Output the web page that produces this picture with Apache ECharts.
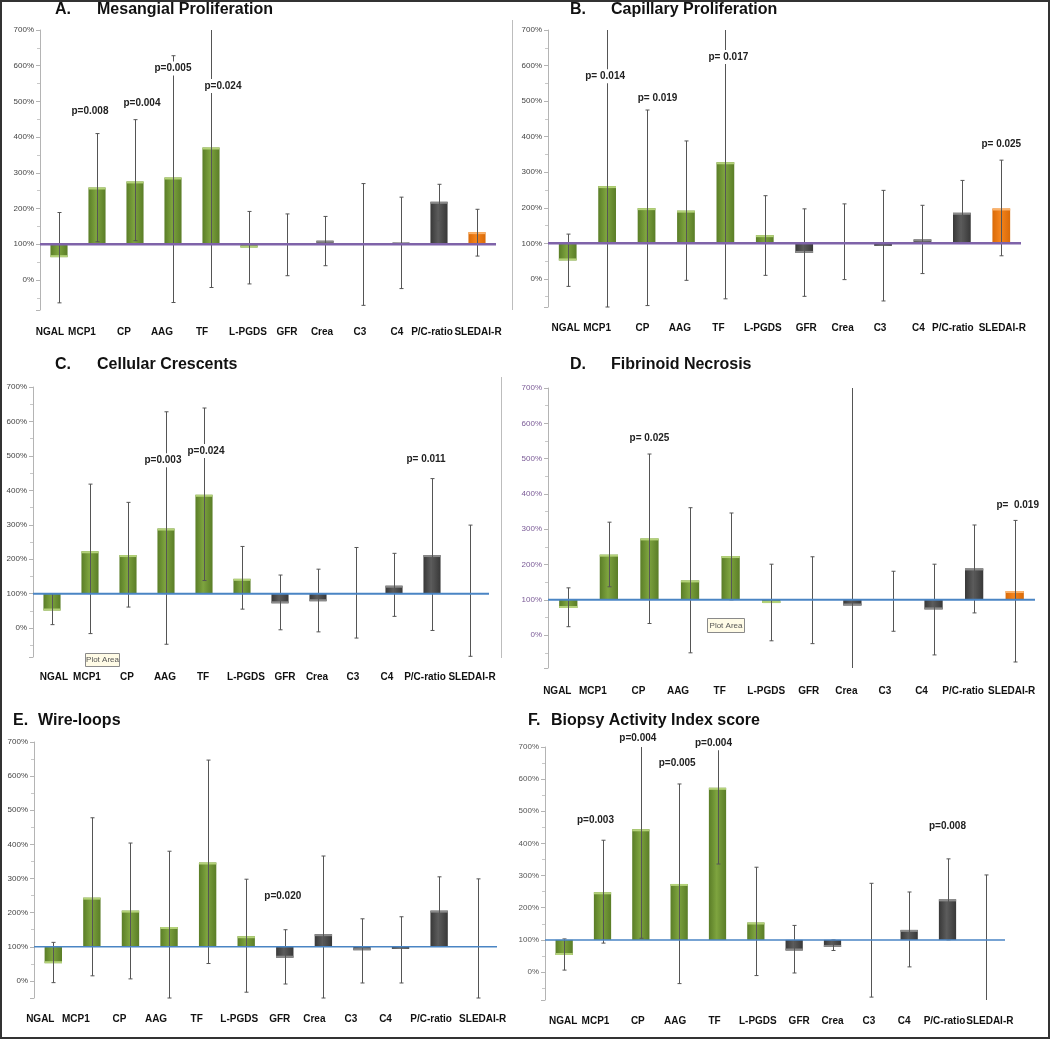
<!DOCTYPE html>
<html>
<head>
<meta charset="utf-8">
<script src="https://cdn.jsdelivr.net/npm/echarts@6/dist/echarts.min.js"></script>
<style>
html,body{margin:0;padding:0;background:#fff;}
#chart{width:1050px;height:1039px;}
</style>
</head>
<body>
<div id="chart"></div>
<script>
// ---------------- DATA ----------------
const CATS = ['NGAL','MCP1','CP','AAG','TF','L-PGDS','GFR','Crea','C3','C4','P/C-ratio','SLEDAI-R'];
const BASELINE = 100;

// A. Mesangial Proliferation
const valA = [64,259,276,287,371,91,98,110,100,105,219,134];
const loA  = [-64,107,110,-63,-21,-11,12,40,-71,-24,166,67];
const hiA  = [189,410,449,628,760,192,185,178,270,232,268,198];
const pA   = [['MCP1',472,'p=0.008'],['CP',495,'p=0.004'],['AAG',592,'p=0.005'],['TF',543,'p=0.024']];

// B. Capillary Proliferation
const valB = [52,261,199,192,328,123,73,100,93,111,186,198];
const loB  = [-21,-79,-75,-4,-56,10,-49,-2,-62,15,100,65];
const hiB  = [126,760,475,388,760,234,197,211,249,207,277,334];
const pB   = [['MCP1',570,'p= 0.014'],['CP',508,'p= 0.019'],['TF',624,'p= 0.017'],['SLEDAI-R',379,'p= 0.025']];

// C. Cellular Crescents
const valC = [51,223,212,289,387,143,72,78,100,123,212,100];
const loC  = [10,-16,61,-47,138,55,-5,-11,-29,34,-7,-82];
const hiC  = [100,418,365,628,639,237,154,171,234,217,434,299];
const pC   = [['AAG',487,'p=0.003'],['TF',514,'p=0.024'],['P/C-ratio',490,'p= 0.011']];

// D. Fibrinoid Necrosis
const valD = [77,228,274,155,224,91,100,84,100,73,189,125];
const loD  = [24,137,33,-50,100,-16,-24,-94,11,-56,63,-76];
const hiD  = [134,320,513,361,346,201,222,760,181,201,312,325];
const pD   = [['CP',558,'p= 0.025'],['SLEDAI-R',368,'p=  0.019']];

// E. Wire-loops
const valE = [52,244,206,158,347,131,68,137,90,94,206,100];
const loE  = [-5,15,6,-50,51,-33,-9,-50,-6,-6,103,-50];
const hiE  = [113,478,404,380,647,298,150,366,182,188,305,299];
const pE   = [['GFR',247,'p=0.020']];

// F. Biopsy Activity Index score
const valF = [53,248,444,274,573,154,67,78,100,131,226,100];
const loF  = [6,90,105,-36,336,-11,-3,67,-78,16,100,-88];
const hiF  = [103,410,760,585,760,326,145,100,276,249,352,302];
const pF   = [['MCP1',473,'p=0.003'],['CP',726,'p=0.004'],['AAG',648,'p=0.005'],['TF',712,'p=0.004'],['P/C-ratio',452,'p=0.008']];

// ---------------- LAYOUT / STYLE ----------------
const FONT = '"Liberation Sans", Arial, Helvetica, sans-serif';
const PURPLE = '#7f63a9', BLUE = '#4a85c4';
const panels = [
  {letter:'A.', title:'Mesangial Proliferation', lx:55, tx:97, ty:11,
   grid:{left:40, top:30, width:456, height:280}, min:-84, margin:17,
   val:valA, lo:loA, hi:hiA, p:pA, line:PURPLE, lw:2.5, ylab:'#444',
   labShift:[-9,-15,-11,-11,-9,-1,0,-3,-3,-4,-7,1], pShift:[-7,7,0,12]},
  {letter:'B.', title:'Capillary Proliferation', lx:570, tx:611, ty:11,
   grid:{left:548, top:30, width:473, height:277}, min:-79, margin:16,
   val:valB, lo:loB, hi:hiB, p:pB, line:PURPLE, lw:2.5, ylab:'#444',
   labShift:[-2,-10,-4,-6,-7,-2,2,-1,-3,-4,-9,1], pShift:[-2,11,3,0]},
  {letter:'C.', title:'Cellular Crescents', lx:55, tx:97, ty:366,
   grid:{left:33, top:387, width:456, height:270}, min:-84, margin:15,
   val:valC, lo:loC, hi:hiC, p:pC, line:BLUE, lw:2, ylab:'#444',
   labShift:[2,-3,-1,-1,-1,4,5,-1,-3,-7,-7,2], pShift:[-3,2,-6]},
  {letter:'D.', title:'Fibrinoid Necrosis', lx:570, tx:611, ty:366,
   grid:{left:548, top:388, width:487, height:280}, min:-93, margin:18,
   val:valD, lo:loD, hi:hiD, p:pD, line:BLUE, lw:2, ylab:'#7a5a96',
   labShift:[-11,-16,-11,-12,-11,-5,-3,-6,-8,-12,-11,-3], pShift:[0,3]},
  {letter:'E.', title:'Wire-loops', lx:13, tx:38, ty:722,
   grid:{left:34, top:742, width:463, height:256}, min:-50, margin:16,
   val:valE, lo:loE, hi:hiE, p:pE, line:BLUE, lw:1.5, ylab:'#444',
   labShift:[-13,-16,-11,-13,-11,-7,-5,-9,-11,-15,-8,5], pShift:[-2]},
  {letter:'F.', title:'Biopsy Activity Index score', lx:528, tx:551, ty:722,
   grid:{left:545, top:747, width:460, height:253}, min:-87, margin:16,
   val:valF, lo:loF, hi:hiF, p:pF, line:BLUE, lw:1.5, ylab:'#555',
   labShift:[-1,-7,-3,-4,-3,2,5,0,-2,-5,-3,4], pShift:[-7,-3,-2,-4,0]}
];
const YMAX = 700;

function barColors(i){
  if (i <= 5) return {edge:'#5a7d27', mid:'#7ea43f', top:'#b4d279'};
  if (i <= 10) return {edge:'#383838', mid:'#5c5c5c', top:'#8a8a8a'};
  return {edge:'#d96a08', mid:'#f5841c', top:'#fbb26a'};
}

function makeBarRender(){
  return function(params, api){
    const i = api.value(0), v = api.value(1);
    const p0 = api.coord([i, BASELINE]);
    const p1 = api.coord([i, v]);
    const w = api.size([1,0])[0]*0.45;
    const x = p0[0]-w/2;
    const y = Math.min(p0[1], p1[1]);
    const h = Math.abs(p0[1]-p1[1]);
    const c = barColors(i);
    const children = [{
      type:'rect', shape:{x:x, y:y, width:w, height:h},
      style:{fill:new echarts.graphic.LinearGradient(0,0,1,0,[
        {offset:0,color:c.edge},{offset:0.45,color:c.mid},{offset:1,color:c.edge}])}
    }];
    if (h > 3) {
      const ty = v >= BASELINE ? y : y + h - 2;
      children.push({type:'rect', shape:{x:x, y:ty, width:w, height:2}, style:{fill:c.top}});
    }
    return {type:'group', children:children};
  };
}

function makeErrRender(ymin){
  return function(params, api){
    const i = api.value(0);
    let lo = api.value(1), hi = api.value(2);
    const hiClip = hi > YMAX, loClip = lo < ymin;
    hi = Math.min(hi, YMAX); lo = Math.max(lo, ymin);
    const a = api.coord([i, lo]), b = api.coord([i, hi]);
    const st = {stroke:'#555', lineWidth:1};
    const cx = Math.round(a[0])+0.5;
    const ch = [{type:'line', shape:{x1:cx, y1:a[1], x2:cx, y2:b[1]}, style:st}];
    if (!hiClip) ch.push({type:'line', shape:{x1:cx-2, y1:b[1], x2:cx+2, y2:b[1]}, style:st});
    if (!loClip) ch.push({type:'line', shape:{x1:cx-2, y1:a[1], x2:cx+2, y2:a[1]}, style:st});
    return {type:'group', children:ch};
  };
}

function makeLineRender(color, lw){
  return function(params, api){
    const cs = params.coordSys;
    const y = api.coord([0, api.value(1)])[1];
    return {type:'line', shape:{x1:cs.x, y1:y, x2:cs.x+cs.width, y2:y},
            style:{stroke:color, lineWidth:lw}};
  };
}

function makePRender(list, shift){
  return function(params, api){
    const pt = api.coord([api.value(0), api.value(1)]);
    return {type:'text', style:{
      text:list[params.dataIndex][2], x:pt[0] + (shift[params.dataIndex] || 0), y:pt[1],
      align:'center', verticalAlign:'middle',
      font:'bold 10px ' + FONT, fill:'#222',
      backgroundColor:'#fff', padding:[2,2]
    }};
  };
}

function labelRich(shift){
  const rich = {};
  shift.forEach(function(d, i){
    rich['s'+i] = {fontSize:10, fontWeight:'bold', color:'#111', fontFamily:FONT,
      padding: d >= 0 ? [0,0,0,2*d] : [0,-2*d,0,0]};
  });
  return rich;
}

const grids = [], xAxes = [], yAxes = [], series = [], graphics = [];
panels.forEach(function(P, k){
  grids.push(Object.assign({containLabel:false}, P.grid));
  xAxes.push({type:'category', gridIndex:k, data:CATS,
    axisLine:{show:false}, axisTick:{show:false}, splitLine:{show:false},
    axisLabel:{interval:0, margin:P.margin, fontSize:10, fontWeight:'bold', color:'#111', fontFamily:FONT,
      formatter:function(v, idx){ return '{s' + idx + '|' + v + '}'; },
      rich:labelRich(P.labShift)}});
  yAxes.push({type:'value', gridIndex:k, min:P.min, max:YMAX, splitNumber:8,
    axisLine:{show:true, lineStyle:{color:'#b4b4b4', width:1}},
    axisTick:{show:true, length:4, lineStyle:{color:'#b4b4b4'}},
    minorTick:{show:true, splitNumber:2, length:3, lineStyle:{color:'#c8c8c8'}},
    splitLine:{show:false},
    axisLabel:{fontSize:8, color:P.ylab, fontFamily:FONT, margin:6,
      formatter:function(v){ return (v % 100 === 0) ? v + '%' : ''; }}});
  series.push({type:'custom', xAxisIndex:k, yAxisIndex:k, z:2,
    data:P.val.map(function(v,i){return [i,v];}), renderItem:makeBarRender()});
  series.push({type:'custom', xAxisIndex:k, yAxisIndex:k, z:3,
    encode:{x:0, y:[1,2]},
    data:P.lo.map(function(l,i){return [i,l,P.hi[i]];}), renderItem:makeErrRender(P.min)});
  series.push({type:'custom', xAxisIndex:k, yAxisIndex:k, z:4,
    data:[[0,BASELINE]], renderItem:makeLineRender(P.line, P.lw)});
  series.push({type:'custom', xAxisIndex:k, yAxisIndex:k, z:5, clip:false,
    data:P.p.map(function(d){return [CATS.indexOf(d[0]), d[1]];}), renderItem:makePRender(P.p, P.pShift)});
  graphics.push({type:'text', left:P.lx, top:P.ty-9, style:{text:P.letter, font:'bold 16px ' + FONT, fill:'#111'}});
  graphics.push({type:'text', left:P.tx, top:P.ty-9, style:{text:P.title, font:'bold 16px ' + FONT, fill:'#111'}});
});

// panel separators, excel "Plot Area" tooltips, outer frame
graphics.push({type:'line', shape:{x1:512.5, y1:20, x2:512.5, y2:310}, style:{stroke:'#bdbdbd', lineWidth:1}});
graphics.push({type:'line', shape:{x1:501.5, y1:377, x2:501.5, y2:658}, style:{stroke:'#bdbdbd', lineWidth:1}});
graphics.push({type:'group', left:85, top:653, children:[
  {type:'rect', shape:{x:0,y:0,width:34,height:13}, style:{fill:'#fffbe6', stroke:'#8a8a8a', lineWidth:1}},
  {type:'text', style:{text:'Plot Area', x:17, y:6.5, align:'center', verticalAlign:'middle', font:'8px ' + FONT, fill:'#555'}}
]});
graphics.push({type:'group', left:707, top:618, children:[
  {type:'rect', shape:{x:0,y:0,width:37,height:14}, style:{fill:'#fffbe6', stroke:'#8a8a8a', lineWidth:1}},
  {type:'text', style:{text:'Plot Area', x:18.5, y:7, align:'center', verticalAlign:'middle', font:'8px ' + FONT, fill:'#555'}}
]});
graphics.push({type:'rect', silent:true, shape:{x:1, y:1, width:1048, height:1037},
  style:{fill:'none', stroke:'#333', lineWidth:2}, z:100});

const chart = echarts.init(document.getElementById('chart'), null, {renderer:'canvas'});
chart.setOption({
  animation:false,
  backgroundColor:'#fff',
  textStyle:{fontFamily:FONT},
  grid:grids, xAxis:xAxes, yAxis:yAxes, series:series, graphic:graphics
});
</script>
</body>
</html>
